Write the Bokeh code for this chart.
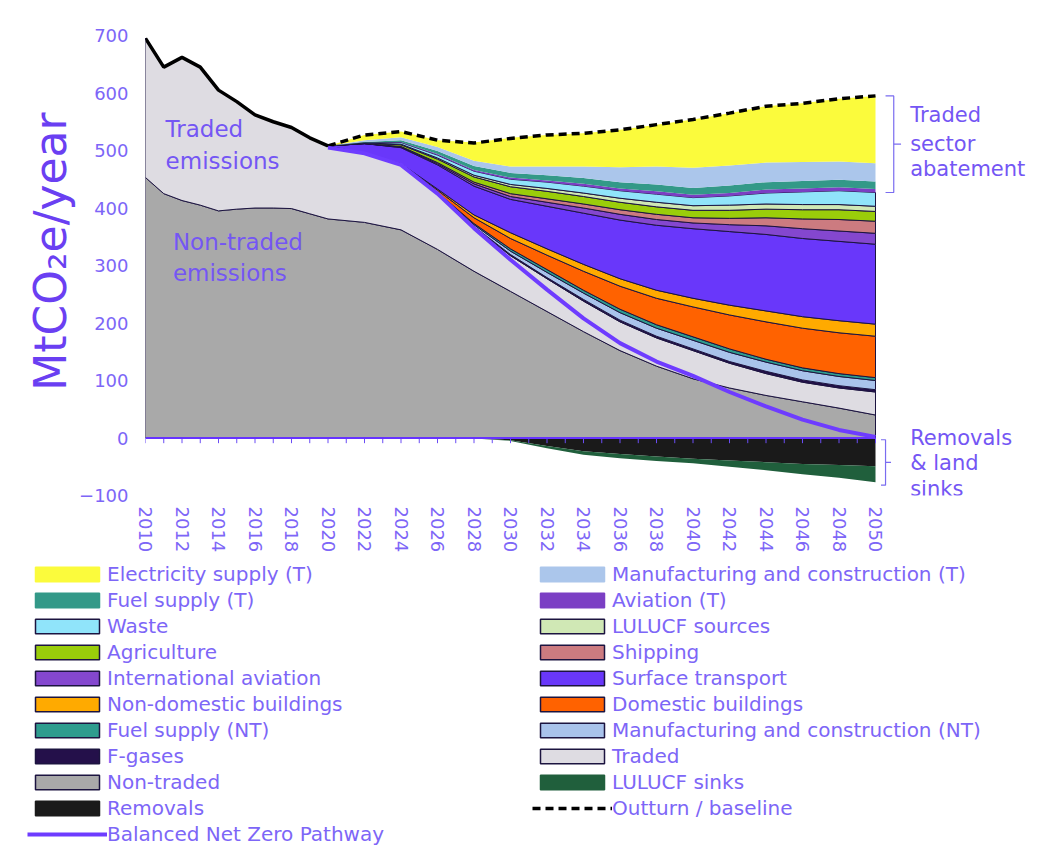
import numpy as np
from bokeh.plotting import figure
from bokeh.models import Legend, LegendItem, FixedTicker, Label, Range1d
from bokeh.embed import file_html
from bokeh.resources import INLINE

# ---------------- data (MtCO2e/year) ----------------
years = [2010, 2011, 2012, 2013, 2014, 2015, 2016, 2017, 2018, 2019, 2020,
         2022, 2024, 2026, 2028, 2030, 2032, 2034, 2036, 2038, 2040,
         2042, 2044, 2046, 2048, 2050]
pre = [0] * 10  # 2010-2019: no abatement yet

non_traded = [453, 425, 413, 405, 395, 398, 400, 400, 399, 390, 381,
              375, 362, 328, 290, 255, 220, 185, 152, 125, 103, 87, 74, 63, 52, 40]
traded = [242, 220, 249, 240, 210, 187, 162, 150, 141, 132, 127,
          120, 113, 97, 77, 62, 57, 53, 50, 49, 49, 43, 38, 34, 35, 40]
f_gases = pre + [0, 0, 0, 0, 1, 2, 2, 3, 3, 3, 3, 3, 4, 4, 4, 4]
manuf_nt = pre + [0, 0, 0, 1, 3, 6, 9, 11, 13, 14, 15, 16, 16, 16, 16, 16]
fuel_nt = pre + [0, 0, 0, 1, 2, 4, 5, 5, 6, 6, 6, 6, 5, 5, 5, 5]
domestic = pre + [0, 0, 1, 4, 10, 18, 25, 33, 40, 46, 52, 59, 65, 69, 71, 72]
non_domestic = pre + [0, 0, 1, 2, 5, 10, 11, 12, 13, 14, 15, 17, 19, 20, 21, 21]
surface = pre + [0, 17, 28, 42, 50, 58, 74, 89, 102, 113, 121, 128, 133, 136, 138, 139]
int_aviation = pre + [0, 0, 1, 2, 4, 5, 7, 9, 10, 10, 10, 12, 15, 17, 18, 19]
shipping = pre + [0, 0, 1, 2, 3, 5, 6, 7, 8, 9, 9, 11, 14, 17, 20, 21]
agriculture = pre + [0, 1, 3, 6, 9, 12, 13, 13, 13, 13, 13, 14, 15, 16, 17, 17]
lulucf_sources = pre + [0, 0, 1, 2, 3, 4, 5, 6, 7, 8, 8, 9, 9, 9, 9, 9]
waste = pre + [0, 1, 3, 5, 7, 9, 11, 12, 13, 14, 14, 16, 19, 22, 24, 24]
aviation_t = pre + [0, 0, 1, 2, 2, 3, 3, 4, 4, 5, 5, 5, 6, 6, 6, 6]
fuel_t = pre + [0, 1, 3, 5, 7, 8, 9, 10, 11, 12, 12, 13, 13, 13, 13, 13]
manuf_t = pre + [0, 3, 5, 7, 9, 11, 15, 20, 26, 31, 35, 35, 34, 33, 32, 32]
electricity = pre + [0, 9, 10, 12, 32, 50, 55, 58, 65, 73, 84, 91, 98, 102, 109, 117]
removals = pre + [0, 0, 0, 0, -1, -4, -14, -23, -28, -32, -36, -39, -42, -45, -47, -49]
lulucf_sinks = pre + [0, 0, 0, 0, 0, -1, -4, -6, -7, -8, -8, -11, -14, -18, -22, -28]

outturn_years = [2010, 2011, 2012, 2013, 2014, 2015, 2016, 2017, 2018, 2019, 2020]
outturn = [695, 645, 662, 645, 605, 585, 562, 550, 540, 522, 508]
baseline_years = [2020, 2022, 2024, 2026, 2028, 2030, 2032, 2034, 2036, 2038, 2040,
                  2042, 2044, 2046, 2048, 2050]
baseline = [508, 527, 533, 518, 513, 521, 527, 530, 536, 545, 554, 565, 577, 582, 590, 595]
pathway = [505, 495, 475, 425, 365, 310, 258, 208, 165, 133, 108, 80, 55, 32, 14, 2]

x_tick_labels = [2010, 2012, 2014, 2016, 2018, 2020, 2022, 2024, 2026, 2028, 2030,
                 2032, 2034, 2036, 2038, 2040, 2042, 2044, 2046, 2048, 2050]
y_ticks = [-100, 0, 100, 200, 300, 400, 500, 600, 700]

# ---------------- styling ----------------
FONT = "DejaVu Sans"
TXT = "#7D66F7"
ANN = "#7456F4"
EDGE = "#1c1440"
PATH_COL = "#6E3CFF"

positive = [
    ("Non-traded", non_traded, "#A9A9A9", True),
    ("Traded", traded, "#DEDCE2", True),
    ("F-gases", f_gases, "#24104A", True),
    ("Manufacturing and construction (NT)", manuf_nt, "#A9C3EB", True),
    ("Fuel supply (NT)", fuel_nt, "#2E9C8E", True),
    ("Domestic buildings", domestic, "#FF6200", True),
    ("Non-domestic buildings", non_domestic, "#FFAA00", True),
    ("Surface transport", surface, "#6937FA", True),
    ("International aviation", int_aviation, "#8447CF", True),
    ("Shipping", shipping, "#CC7B80", True),
    ("Agriculture", agriculture, "#9ACD0A", True),
    ("LULUCF sources", lulucf_sources, "#D0E8B5", True),
    ("Waste", waste, "#90E4FA", True),
    ("Aviation (T)", aviation_t, "#7B3FC4", False),
    ("Fuel supply (T)", fuel_t, "#339988", False),
    ("Manufacturing and construction (T)", manuf_t, "#ABC6EB", False),
    ("Electricity supply (T)", electricity, "#FBFB3C", False),
]
negative = [
    ("Removals", removals, "#1A1A1A"),
    ("LULUCF sinks", lulucf_sinks, "#205F3C"),
]

X_END = 2010 + (1045 - 145) / 18.25

p = figure(width=1045, height=556, output_backend="svg", toolbar_location=None,
           x_range=Range1d(2010, X_END), y_range=Range1d(-100, 700),
           min_border_left=145, min_border_right=0, min_border_top=35,
           min_border_bottom=61)
p.outline_line_color = None
p.xgrid.visible = False
p.ygrid.visible = False
p.background_fill_color = "white"
p.border_fill_color = "white"

xs_poly = years + years[::-1]
base = np.zeros(len(years))
for name, vals, col, border in positive:
    top = base + np.array(vals, dtype=float)
    ys_poly = list(top) + list(base[::-1])
    p.patch(xs_poly, ys_poly, fill_color=col,
            line_color=EDGE if border else None, line_width=1)
    base = top

nbase = np.zeros(len(years))
for name, vals, col in negative:
    bot = nbase + np.array(vals, dtype=float)
    ys_poly = list(nbase) + list(bot[::-1])
    p.patch(xs_poly, ys_poly, fill_color=col, line_color=None)
    nbase = bot

# zero axis line with yearly ticks
all_years = list(range(years[0], years[-1] + 1))
p.segment(x0=all_years, y0=[0] * len(all_years), x1=all_years, y1=[-9] * len(all_years),
          line_color="#6A4CF5", line_width=1)
p.line([years[0], years[-1]], [0, 0], line_color="#6633FF", line_width=2)

# outturn / baseline and pathway
p.line(outturn_years, outturn, line_color="black", line_width=3.5)
p.line(baseline_years, baseline, line_color="black", line_width=3.5, line_dash="8 5")
p.line(baseline_years, pathway, line_color=PATH_COL, line_width=4)

# axes
p.xaxis.ticker = FixedTicker(ticks=x_tick_labels)
p.xaxis.major_label_orientation = "vertical"
p.xaxis.axis_line_color = None
p.xaxis.major_tick_line_color = None
p.xaxis.minor_tick_line_color = None
p.xaxis.major_tick_out = 0
p.xaxis.major_label_standoff = 11
p.xaxis.major_label_text_font = FONT
p.xaxis.major_label_text_font_size = "18px"
p.xaxis.major_label_text_color = TXT

p.yaxis.ticker = FixedTicker(ticks=y_ticks)
p.yaxis.axis_line_color = None
p.yaxis.major_tick_line_color = None
p.yaxis.minor_tick_line_color = None
p.yaxis.major_tick_out = 0
p.yaxis.major_label_standoff = 17
p.yaxis.major_label_text_font = FONT
p.yaxis.major_label_text_font_size = "18px"
p.yaxis.major_label_text_color = TXT
p.yaxis.axis_label = "\u00a0\u00a0MtCO\u2082e/year"
p.yaxis.axis_label_text_font = FONT
p.yaxis.axis_label_text_font_size = "44px"
p.yaxis.axis_label_text_font_style = "normal"
p.yaxis.axis_label_text_color = "#6A3FF2"
p.yaxis.axis_label_standoff = 0

# annotations inside the chart
def add_label(x, y, text, size):
    p.add_layout(Label(x=x, y=y, text=text, text_font=FONT, text_font_size=size,
                       text_color=ANN, text_baseline="middle", text_align="left"))

add_label(2011.1, 538, "Traded", "23px")
add_label(2011.1, 482, "emissions", "23px")
add_label(2011.5, 341, "Non-traded", "23px")
add_label(2011.5, 287, "emissions", "23px")
add_label(2051.9, 561, "Traded", "21px")
add_label(2051.9, 512, "sector", "21px")
add_label(2051.9, 468, "abatement", "21px")
add_label(2051.9, 0, "Removals", "21px")
add_label(2051.9, -44, "& land", "21px")
add_label(2051.9, -89, "sinks", "21px")

# brackets
top_abate = baseline[-1]
bot_abate = float(np.sum([non_traded[-1], traded[-1], f_gases[-1], manuf_nt[-1], fuel_nt[-1],
                          domestic[-1], non_domestic[-1], surface[-1], int_aviation[-1],
                          shipping[-1], agriculture[-1], lulucf_sources[-1], waste[-1]]))
mid_abate = (top_abate + bot_abate) / 2
bx, bl, br = 2051.0, 2050.55, 2051.4
p.line([bl, bx, bx, bl], [top_abate, top_abate, bot_abate, bot_abate],
       line_color="#7A6CF0", line_width=1.2)
p.line([bx, br], [mid_abate, mid_abate], line_color="#7A6CF0", line_width=1.2)
neg_bot = removals[-1] + lulucf_sinks[-1]
bx2, bl2, br2 = 2050.55, 2050.3, 2050.85
p.line([bl2, bx2, bx2, bl2], [-3, -3, neg_bot - 5, neg_bot - 5],
       line_color="#7A6CF0", line_width=1.2)
p.line([bx2, br2], [(neg_bot - 8) / 2, (neg_bot - 8) / 2], line_color="#7A6CF0", line_width=1.2)

# ---------------- legend panel (separate root, not frame-aligned) ----------------
q = figure(width=1045, height=293, output_backend="svg", toolbar_location=None,
           x_range=Range1d(0, 1), y_range=Range1d(0, 1),
           min_border_left=22, min_border_right=0, min_border_top=0, min_border_bottom=0)
q.axis.visible = False
q.xgrid.visible = False
q.ygrid.visible = False
q.outline_line_color = None
q.background_fill_color = "white"
q.border_fill_color = "white"

styles = {name: (col, border) for name, vals, col, border in positive}
styles.update({name: (col, False) for name, vals, col in negative})

# legend-only renderers: placed outside the visible range of this panel
HX, HY = [5, 6, 6], [5, 5, 6]

def legend_renderer(name):
    if name == "Outturn / baseline":
        return q.line(x=HX[:2], y=HY[:2], line_color="black", line_width=3.5, line_dash="8 5")
    if name == "Balanced Net Zero Pathway":
        return q.line(x=HX[:2], y=HY[:2], line_color=PATH_COL, line_width=4)
    col, border = styles[name]
    return q.patch(x=HX, y=HY, fill_color=col, line_color=EDGE if border else col,
                   line_width=1.5)

left_col = ["Electricity supply (T)", "Fuel supply (T)", "Waste", "Agriculture",
            "International aviation", "Non-domestic buildings", "Fuel supply (NT)",
            "F-gases", "Non-traded", "Removals", "Balanced Net Zero Pathway"]
right_col = ["Manufacturing and construction (T)", "Aviation (T)", "LULUCF sources",
             "Shipping", "Surface transport", "Domestic buildings",
             "Manufacturing and construction (NT)", "Traded", "LULUCF sinks",
             "Outturn / baseline"]
items = [LegendItem(label=n, renderers=[legend_renderer(n)]) for n in left_col + right_col]
legend = Legend(items=items, location="top_left", ncols=2, orientation="vertical",
                glyph_width=80, glyph_height=18, label_width=424, label_height=25,
                label_standoff=0, spacing=1, padding=0, margin=5,
                border_line_color=None, background_fill_alpha=0,
                label_text_font=FONT, label_text_font_size="20px",
                label_text_color=TXT)
q.add_layout(legend)

open("out.html", "w").write(file_html([p, q], INLINE))
